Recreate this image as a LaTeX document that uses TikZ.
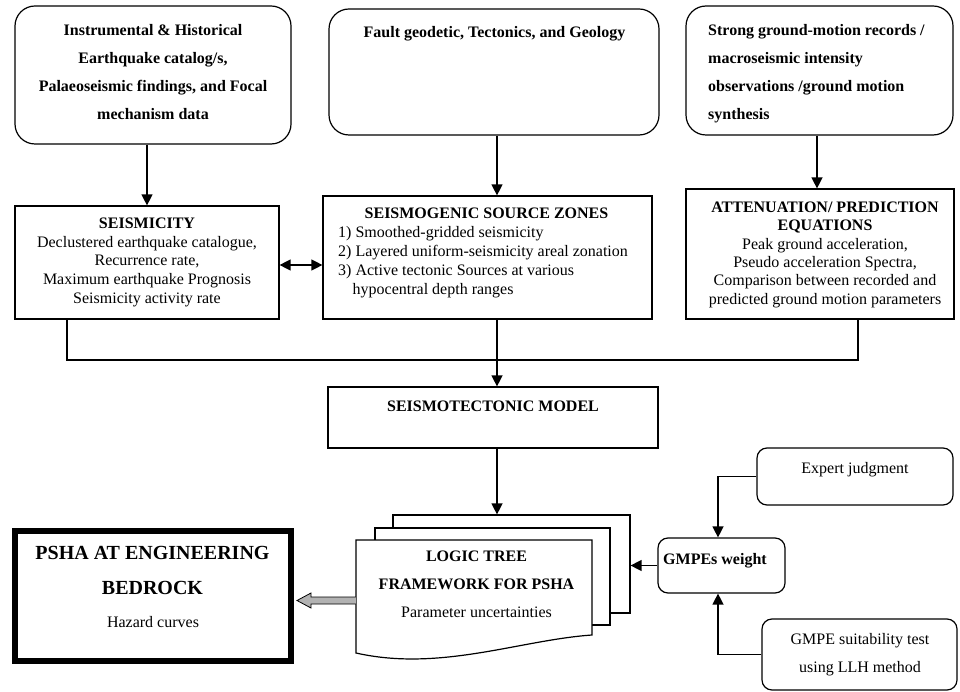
\documentclass[tikz,border=0pt]{standalone}
\usepackage{fontspec}
\setmainfont{Liberation Serif}
\usetikzlibrary{arrows.meta,calc,fit}
\begin{document}
\begin{tikzpicture}[x=1pt,y=-1pt,
  box/.style={draw,line width=1.2pt,inner sep=0pt},
  rbox/.style={draw,line width=1.2pt,inner sep=0pt,rounded corners=20pt},
  sbox/.style={draw,line width=1.2pt,inner sep=0pt,rounded corners=10pt},
  txt/.style={inner sep=0pt,anchor=north,align=center,font=\fontsize{16}{19}\selectfont},
  btxt/.style={txt,font=\bfseries\fontsize{16}{19}\selectfont},
  arr/.style={line width=1.3pt,-{Triangle[length=11pt,width=11pt]}},
  arrs/.style={line width=1.3pt,{Triangle[length=11pt,width=11pt]}-{Triangle[length=11pt,width=11pt]}},
  conn/.style={line width=1.3pt}]
\useasboundingbox (0,0) rectangle (960,692);

% ---------- top sources ----------
\node[rbox,fit={(15,6) (291,144)}] (src1) {};
\node[rbox,fit={(329,9) (659,135)}] (src2) {};
\node[rbox,fit={(686,6) (953,135)}] (src3) {};

\node[btxt,font=\bfseries\fontsize{16}{28}\selectfont] (t1) at (153,24.5)
  {Instrumental \& Historical\\Earthquake catalog/s,\\Palaeoseismic findings, and Focal\\mechanism data};
\node[btxt] (t2) at (494.5,26.5) {Fault geodetic, Tectonics, and Geology};
\node[btxt,anchor=north west,align=left,font=\bfseries\fontsize{16}{28}\selectfont] (t3) at (708,24.5)
  {Strong ground-motion records /\\macroseismic intensity\\observations /ground motion\\synthesis};

% ---------- middle row ----------
\node[box,fit={(15,206) (279,319)}] (seis) {};
\node[box,fit={(323,196) (652,319)}] (zones) {};
\node[box,fit={(686,189) (954,319)}] (atten) {};

\node[txt,font=\fontsize{16}{18.6}\selectfont] (t4) at (147,218)
  {\textbf{SEISMICITY}\\Declustered earthquake catalogue,\\Recurrence rate,\\Maximum earthquake Prognosis\\Seismicity activity rate};
\node[btxt] (t5) at (486.5,207.5) {SEISMOGENIC SOURCE ZONES};
\node[txt,anchor=north west,align=left,font=\fontsize{16}{18.8}\selectfont] (t6) at (338,226.5)
  {1) Smoothed-gridded seismicity\\2) Layered uniform-seismicity areal zonation\\3) Active tectonic Sources at various\\\hspace*{14.5pt}hypocentral depth ranges};
\node[txt,font=\fontsize{16}{18.4}\selectfont] (t7) at (825,201.5)
  {\textbf{ATTENUATION/ PREDICTION}\\\textbf{EQUATIONS}\\Peak ground acceleration,\\Pseudo acceleration Spectra,\\Comparison between recorded and\\predicted ground motion parameters};

% ---------- seismotectonic model ----------
\node[box,fit={(328,387) (658,448)}] (stm) {};
\node[btxt] (t8) at (493,400.5) {SEISMOTECTONIC MODEL};

% ---------- logic tree stack ----------
\node[box,fill=white,fit={(393,515) (630,613)}] (back) {};
\node[box,fill=white,fit={(375,528) (610,625)}] (mid) {};
\draw[line width=1.2pt,fill=white] (356,540) -- (592,540) -- (592,635)
  .. controls (520,640) and (440,672) .. (356,653) -- cycle;
\node[inner sep=0pt,fit={(356,540) (592,653)}] (front) {};
\node[btxt,font=\bfseries\fontsize{16}{28}\selectfont] (t9) at (476.5,550.5)
  {LOGIC TREE\\FRAMEWORK FOR PSHA};
\node[txt] (t10) at (476.5,606.5) {Parameter uncertainties};

% ---------- PSHA result ----------
\node[draw,line width=6pt,inner sep=0pt,fit={(15,531) (291,661)}] (psha) {};
\node[btxt,font=\bfseries\fontsize{20}{35}\selectfont] (t11) at (152.5,546.5) {PSHA AT ENGINEERING\\BEDROCK};
\node[txt] (t12) at (153,616) {Hazard curves};

% ---------- GMPE weights ----------
\node[sbox,fit={(658,538) (785,593)}] (gmw) {};
\node[btxt,anchor=north west] (t13) at (663,553.5) {GMPEs weight};
\node[sbox,fit={(757,448) (953,505)}] (expj) {};
\node[txt] (t14) at (855,462.5) {Expert judgment};
\node[sbox,fit={(762,619) (957,690)}] (gsuit) {};
\node[txt,font=\fontsize{16}{28}\selectfont] (t15) at (860,633.5) {GMPE suitability test\\using LLH method};

% ---------- connectors ----------
\coordinate (cx) at (497,0);
\coordinate (cx3) at (817,0);
\coordinate (cy) at (0,265);
\coordinate (jl) at (67,360);
\coordinate (jr) at (858,360);
\coordinate (cg) at (718,0);
\coordinate (gy) at (0,600.5);

\draw[arr] (src1.south -| seis.north) -- (seis.north);
\draw[arr] (src2.south -| cx) -- (zones.north -| cx);
\draw[arr] (src3.south -| cx3) -- (atten.north -| cx3);
\draw[arrs] (seis.east |- cy) -- (zones.west |- cy);
\draw[conn] (seis.south -| jl) -- (jl) -- (jr) -- (atten.south -| jr);
\draw[arr] (zones.south -| cx) -- (stm.north -| cx);
\draw[arr] (stm.south -| cx) -- (back.north -| cx);
\draw[arr] (gmw.west) -- (back.east |- gmw.west);
\draw[arr] (expj.west) -| (gmw.north -| cg);
\draw[arr] (gsuit.west) -| (gmw.south -| cg);

% hollow grey arrow from logic tree to PSHA
\coordinate (ga) at (front.west |- gy);
\coordinate (gb) at ($(psha.east |- gy)+(3,0)$);
\draw[line width=0.8pt,fill=gray!60,line join=miter]
  ($(ga)+(0,-3.5)$) -- ($(gb)+(14,-3.5)$) -- ($(gb)+(14,-7.5)$) -- (gb)
  -- ($(gb)+(14,7.5)$) -- ($(gb)+(14,3.5)$) -- ($(ga)+(0,3.5)$);
\end{tikzpicture}
\end{document}
